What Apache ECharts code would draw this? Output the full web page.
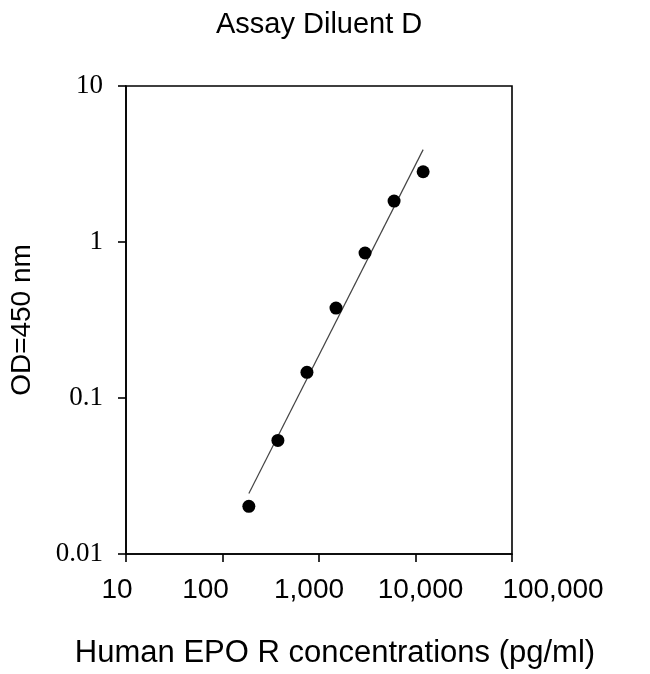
<!DOCTYPE html>
<html>
<head>
<meta charset="utf-8">
<script src="https://cdn.jsdelivr.net/npm/echarts@6/dist/echarts.min.js"></script>
<style>
html,body{margin:0;padding:0;background:#fff;}
#chart{width:650px;height:674px;}
</style>
</head>
<body>
<div id="chart"></div>
<script>
// Data
var concentrations = [187.5, 375, 750, 1500, 3000, 6000, 12000];
var odValues = [0.0202, 0.0535, 0.146, 0.377, 0.85, 1.83, 2.82];
var fitX = [187.5, 12000];
var fitY = [0.0244, 3.91];
var xTickLabels = ['10', '100', '1,000', '10,000', '100,000'];
var yTickLabels = ['0.01', '0.1', '1', '10'];

var chart = echarts.init(document.getElementById('chart'));

function pairs(xs, ys) {
  return xs.map(function (x, i) { return [x, ys[i]]; });
}

// horizontal nudges mimicking the reference's label placement
var xShift = [-9, -17, -10, 5, 41];
var xRich = {};
xShift.forEach(function (s, i) {
  xRich['l' + i] = {
    fontFamily: 'Liberation Sans', fontSize: 28, color: '#000',
    padding: s >= 0 ? [0, 0, 0, 2 * s] : [0, -2 * s, 0, 0]
  };
});

var option = {
  animation: false,
  backgroundColor: '#fff',
  title: {
    text: 'Assay Diluent D',
    left: 211,
    top: 5,
    textStyle: { fontFamily: 'Liberation Sans', fontSize: 29, fontWeight: 'normal', color: '#000' }
  },
  grid: {
    left: 126, right: 138, top: 86, bottom: 117,
    show: true, borderColor: '#000', borderWidth: 1.6, backgroundColor: 'transparent'
  },
  xAxis: {
    type: 'log', logBase: 10, min: 10, max: 100000,
    name: 'Human EPO R concentrations (pg/ml)',
    nameLocation: 'middle', nameGap: 84,
    nameTextStyle: { fontFamily: 'Liberation Sans', fontSize: 31, color: '#000', padding: [0, 0, 0, 32] },
    axisLine: { show: true, lineStyle: { color: '#000', width: 1.6 } },
    axisTick: { show: true, inside: false, length: 8, lineStyle: { color: '#000', width: 1.6 } },
    minorTick: { show: false },
    splitLine: { show: false },
    axisLabel: {
      margin: 22,
      formatter: function (v) {
        var i = Math.round(Math.log10(v)) - 1;
        return '{l' + i + '|' + xTickLabels[i] + '}';
      },
      rich: xRich
    }
  },
  yAxis: {
    type: 'log', logBase: 10, min: 0.01, max: 10,
    name: 'OD=450 nm',
    nameLocation: 'middle', nameGap: 90, nameRotate: 90,
    nameTextStyle: { fontFamily: 'Liberation Sans', fontSize: 28, color: '#000' },
    axisLine: { show: true, lineStyle: { color: '#000', width: 1.6 } },
    axisTick: { show: true, inside: false, length: 8, lineStyle: { color: '#000', width: 1.6 } },
    minorTick: { show: false },
    splitLine: { show: false },
    axisLabel: {
      margin: 23,
      fontFamily: 'Liberation Serif', fontSize: 27, color: '#000',
      formatter: function (v) {
        var i = Math.round(Math.log10(v)) + 2;
        return yTickLabels[i];
      }
    }
  },
  series: [
    {
      type: 'line',
      data: pairs(fitX, fitY),
      symbol: 'none',
      lineStyle: { color: '#444', width: 1.2 },
      z: 2
    },
    {
      type: 'scatter',
      data: pairs(concentrations, odValues),
      symbol: 'circle',
      symbolSize: 13,
      itemStyle: { color: '#000', opacity: 1 },
      z: 3
    }
  ]
};
chart.setOption(option);
</script>
</body>
</html>
